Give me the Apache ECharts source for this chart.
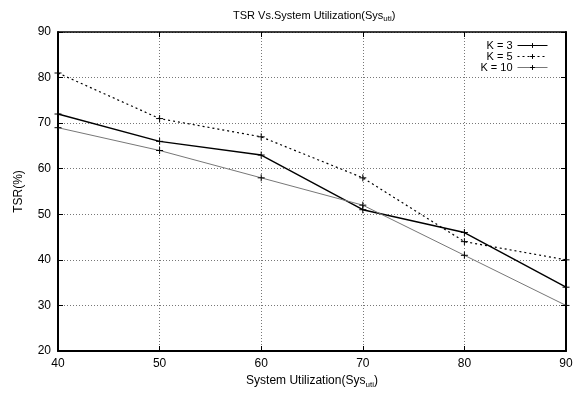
<!DOCTYPE html>
<html><head><meta charset="utf-8">
<script src="https://cdn.jsdelivr.net/npm/echarts@6/dist/echarts.min.js"></script>
<style>html,body{margin:0;padding:0;background:#fff}#c{width:580px;height:394px}</style>
</head><body><div id="c"></div>
<script>
const xValues = [40, 50, 60, 70, 80, 90];
const k3 = [72, 66, 63, 51, 46, 34];
const k5 = [81, 71, 67, 58, 44, 40];
const k10 = [69, 64, 58, 52, 41, 30];
const seriesNames = ['K = 3', 'K = 5', 'K = 10'];

const font = 'Liberation Sans, Arial, sans-serif';
const plus = 'path://M0,5L10,5M5,0L5,10';
function pts(v){ return xValues.map((x,i)=>[x, v[i]]); }
function mk(name, data, color, width, type){
  return {
    name, type:'line', data: pts(data), symbol: plus, symbolSize: 7,
    showSymbol: true,
    lineStyle:{color, width, type},
    itemStyle:{color:'none', borderColor:'#000', borderWidth:1},
    emphasis:{disabled:true}, animation:false
  };
}
const chart = echarts.init(document.getElementById('c'), null, {renderer:'canvas'});
const axisLbl = {color:'#000', fontFamily:font, fontSize:12};
chart.setOption({
  backgroundColor:'#fff',
  animation:false,
  title:{
    text:'TSR Vs.System Utilization(Sys{s|uti})',
    left:228, top:4,
    textStyle:{fontFamily:font, fontSize:11, fontWeight:'normal', color:'#000',
      rich:{s:{fontSize:8, verticalAlign:'bottom', padding:[6,0,0,0], fontFamily:font, color:'#000'}}}
  },
  legend:{
    orient:'vertical', right:27, top:35, align:'right',
    itemWidth:30, itemHeight:6, itemGap:0,
    lineStyle:{width:1},
    itemStyle:{borderWidth:1},
    textStyle:{fontFamily:font, fontSize:11, color:'#000', lineHeight:10},
    data: seriesNames
  },
  grid:{left:58, right:14, top:32, bottom:40, show:false},
  xAxis:[{
    type:'value', min:40, max:90, interval:10,
    name:'System Utilization(Sys{s|uti})', nameLocation:'middle', nameGap:22,
    nameTextStyle:{fontFamily:font, fontSize:12, color:'#000',
      rich:{s:{fontSize:8, padding:[8,0,0,0], fontFamily:font, color:'#000'}}},
    axisLine:{lineStyle:{color:'#000', width:2}},
    axisTick:{inside:true, length:5, lineStyle:{color:'#000'}},
    axisLabel:{...axisLbl, margin:7},
    splitLine:{show:true, lineStyle:{color:'#777', type:[1,2], width:1}}
  },{
    type:'value', min:40, max:90, interval:10, position:'top',
    axisLine:{lineStyle:{color:'#000', width:1.5}},
    axisTick:{inside:true, length:5, lineStyle:{color:'#000'}},
    axisLabel:{show:false}, splitLine:{show:false}
  }],
  yAxis:[{
    type:'value', min:20, max:90, interval:10,
    name:'TSR(%)', nameLocation:'middle', nameGap:33, nameRotate:90,
    nameTextStyle:{fontFamily:font, fontSize:12, color:'#000'},
    axisLine:{show:true, lineStyle:{color:'#000', width:2}},
    axisTick:{show:true, inside:true, length:5, lineStyle:{color:'#000'}},
    axisLabel:{...axisLbl, margin:7},
    splitLine:{show:true, lineStyle:{color:'#777', type:[1,2], width:1}}
  },{
    type:'value', min:20, max:90, interval:10, position:'right',
    axisLine:{show:true, lineStyle:{color:'#000', width:2}},
    axisTick:{show:true, inside:true, length:5, lineStyle:{color:'#000'}},
    axisLabel:{show:false}, splitLine:{show:false}
  }],
  series:[
    mk(seriesNames[0], k3, '#000', 1.4, 'solid'),
    mk(seriesNames[1], k5, '#000', 1.2, [2,3]),
    mk(seriesNames[2], k10, '#777', 1, 'solid')
  ]
});
</script></body></html>
